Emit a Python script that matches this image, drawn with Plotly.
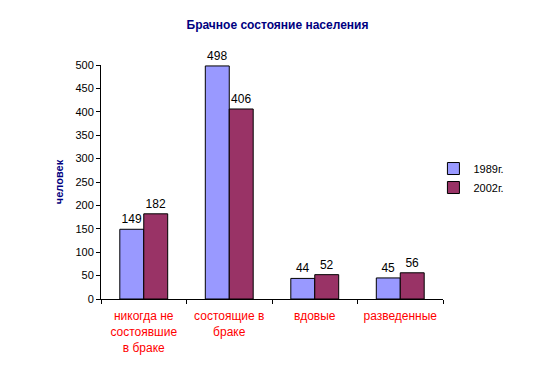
import plotly.graph_objects as go

categories = ["никогда не<br>состоявшие<br>в браке", "состоящие в<br>браке", "вдовые", "разведенные"]
series_names = ["1989г.", "2002г."]
values_1989 = [149, 498, 44, 45]
values_2002 = [182, 406, 52, 56]
colors = ["#9999FF", "#993366"]

FONT = "Arial, Liberation Sans, sans-serif"

fig = go.Figure()
for name, vals, col in zip(series_names, [values_1989, values_2002], colors):
    fig.add_trace(go.Bar(
        x=categories, y=vals, name=name,
        marker=dict(color=col, line=dict(color="black", width=1)),
        text=[str(v) for v in vals], textposition="outside",
        textfont=dict(family=FONT, size=12, color="black"),
        cliponaxis=False,
    ))

fig.update_layout(
    width=539, height=368,
    margin=dict(l=93, r=104, t=57, b=77),
    paper_bgcolor="white", plot_bgcolor="white",
    barmode="group", bargap=0.44, bargroupgap=0,
    title=dict(text="<b>Брачное состояние населения</b>", x=0.5, xanchor="center",
               y=0.954, yanchor="middle",
               font=dict(family=FONT, size=12, color="#000080")),
    font=dict(family=FONT, size=11, color="black"),
    legend=dict(x=0.972, y=0.517, xanchor="left", yanchor="middle",
                font=dict(family=FONT, size=11, color="black"),
                bgcolor="rgba(0,0,0,0)", tracegroupgap=2),
    showlegend=True,
)
fig.update_xaxes(
    automargin=False,
    showline=True, linecolor="black", linewidth=1,
    ticks="outside", tickson="boundaries", ticklen=4, tickcolor="black",
    tickfont=dict(family=FONT, size=12, color="#FF0000"),
    ticklabelstandoff=6,
    showgrid=False,
)
fig.update_yaxes(
    automargin=False,
    range=[0, 500], dtick=50,
    showline=True, linecolor="black", linewidth=1,
    ticks="outside", ticklen=4, tickcolor="black",
    tickfont=dict(family=FONT, size=11, color="black"),
    showgrid=False, zeroline=False,
    title=dict(text="<b>человек</b>", font=dict(family=FONT, size=11, color="#000080"), standoff=9),
)

fig.write_html("out.html")
